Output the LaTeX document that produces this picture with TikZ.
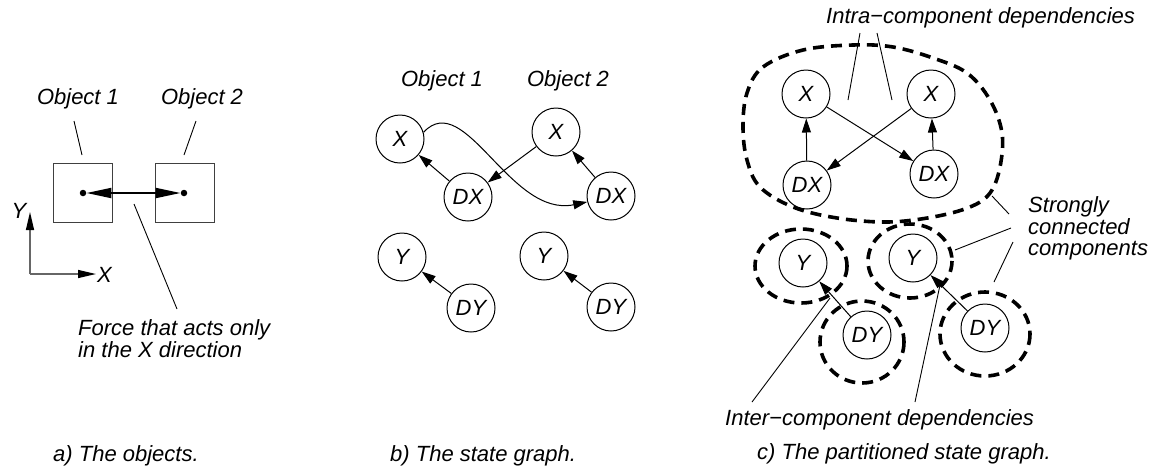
\documentclass[tikz,border=0pt]{standalone}
\usepackage{fontspec}
\setmainfont{Liberation Sans}
\usetikzlibrary{arrows.meta}
\begin{document}
\begin{tikzpicture}[x=1pt,y=-1pt,
  every node/.style={font=\fontsize{22}{21}\selectfont\itshape},
  st/.style={circle,draw,line width=1pt,minimum size=48pt,inner sep=0pt},
  txt/.style={inner sep=0pt},
  arr/.style={line width=1pt,-{Triangle[length=14pt,width=9pt]}},
  lead/.style={line width=0.9pt},
  obj/.style={draw=black!75,line width=1pt,minimum size=59pt,inner sep=0pt},
  dot/.style={circle,fill,inner sep=0pt,minimum size=6.5pt},
  axis/.style={draw=black!60,line width=1.3pt,-{Triangle[length=18pt,width=8pt,color=black]}},
  scc/.style={line width=3.6pt,dash pattern=on 11pt off 7pt},
]
\useasboundingbox (0,0) rectangle (1151,467);

% ---------------- panel a ----------------
\node[obj] (o1) at (82.5,192.5) {};
\node[obj] (o2) at (184.5,192.5) {};
\node[dot] (d1) at (83,193) {};
\node[dot] (d2) at (184,193) {};
\draw[line width=2pt,{Triangle[length=25pt,width=10pt]}-{Triangle[length=25pt,width=10pt]}] (d1.east) -- (d2.west);
\node[txt,anchor=base] (ao1) at (78,104) {Object 1};
\node[txt,anchor=base] (ao2) at (202,104) {Object 2};
\coordinate (la1) at (74,121); \coordinate (la1e) at (82,155);
\coordinate (la2) at (196,121); \coordinate (la2e) at (184,155);
\draw[lead] (la1) -- (la1e);
\draw[lead] (la2) -- (la2e);
\coordinate (lfa) at (134,204); \coordinate (lfb) at (177,309);
\draw[lead] (lfa) -- (lfb);
\node[txt,anchor=base west] (f1) at (78,335) {Force that acts only};
\node[txt,anchor=base west] (f2) at (78,357) {in the X direction};
\coordinate (orig) at (30,274);
\coordinate (ytip) at (30,212);
\coordinate (xtip) at (96,274);
\draw[axis] (orig) -- (ytip);
\draw[axis] (orig) -- (xtip);
\node[txt,anchor=base] (ylab) at (19,218) {Y};
\node[txt,anchor=base west] (xlab) at (97,282) {X};
\node[txt,anchor=base west] (capa) at (53,461) {a) The objects.};

% ---------------- panel b ----------------
\node[txt,anchor=base] (bo1) at (442,86) {Object 1};
\node[txt,anchor=base] (bo2) at (568,86) {Object 2};
\node[st] (X1) at (400,139) {X};
\node[st] (DX1) at (468,197) {DX};
\node[st] (X2) at (556,132) {X};
\node[st] (DX2) at (611,196) {DX};
\node[st] (Y1) at (402,257) {Y};
\node[st] (DY1) at (471,308) {DY};
\node[st] (Y2) at (544,256) {Y};
\node[st] (DY2) at (611,307) {DY};
\draw[arr] (DX1) -- (X1);
\draw[arr] (X2) -- (DX1);
\draw[arr] (DX2) -- (X2);
\draw[arr] (DY1) -- (Y1);
\draw[arr] (DY2) -- (Y2);
\draw[arr] (X1.16) .. controls (465,88) and (510,218) .. (DX2.194);
\node[txt,anchor=base west] (capb) at (390,461) {b) The state graph.};

% ---------------- panel c ----------------
\node[st] (X3) at (806,94) {X};
\node[st] (X4) at (931,94) {X};
\node[st] (DX3) at (807,185) {DX};
\node[st] (DX4) at (934,174) {DX};
\node[st] (Y3) at (803,263) {Y};
\node[st] (Y4) at (913,258) {Y};
\node[st] (DY3) at (867,335) {DY};
\node[st] (DY4) at (985,328) {DY};
\draw[arr] (DX3) -- (X3);
\draw[arr] (DX4) -- (X4);
\draw[arr] (X4) -- (DX3);
\draw[arr] (X3) -- (DX4);
\draw[arr] (DY3) -- (Y3);
\draw[arr] (DY4) -- (Y4);

\draw[scc] plot[smooth cycle,tension=0.6] coordinates {
  (747,93) (763,67) (803,50) (853,45) (893,47) (933,58) (967,73) (990,100)
  (1002,133) (1000,167) (990,193) (970,207) (933,217) (887,222) (837,218)
  (793,207) (760,187) (747,160) (743,127)};
\draw[scc] (801,266) ellipse [x radius=46, y radius=37];
\draw[scc] (910,261) ellipse [x radius=42, y radius=37];
\draw[scc] (862,342) ellipse [x radius=42, y radius=41];
\draw[scc] (985,334) ellipse [x radius=45, y radius=42];

\node[txt,anchor=base west] (intra) at (826,23) {Intra−component dependencies};
\coordinate (li1a) at (860,33); \coordinate (li1b) at (848,100);
\coordinate (li2a) at (877,33); \coordinate (li2b) at (892,100);
\draw[lead] (li1a) -- (li1b);
\draw[lead] (li2a) -- (li2b);

\node[txt,anchor=base west] (s1) at (1028,212) {Strongly};
\node[txt,anchor=base west] (s2) at (1028,234) {connected};
\node[txt,anchor=base west] (s3) at (1028,255) {components};
\coordinate (ls1a) at (1009,214); \coordinate (ls1b) at (992,196);
\coordinate (ls2a) at (1011,228); \coordinate (ls2b) at (955,250);
\coordinate (ls3a) at (1013,242); \coordinate (ls3b) at (994,282);
\draw[lead] (ls1a) -- (ls1b);
\draw[lead] (ls2a) -- (ls2b);
\draw[lead] (ls3a) -- (ls3b);

\node[txt,anchor=base west] (inter) at (725,425) {Inter−component dependencies};
\coordinate (le1a) at (752,402); \coordinate (le1b) at (830,298);
\coordinate (le2a) at (915,402); \coordinate (le2b) at (940,285);
\draw[lead] (le1a) -- (le1b);
\draw[lead] (le2a) -- (le2b);

\node[txt,anchor=base west] (capc) at (757,459) {c) The partitioned state graph.};
\end{tikzpicture}
\end{document}
